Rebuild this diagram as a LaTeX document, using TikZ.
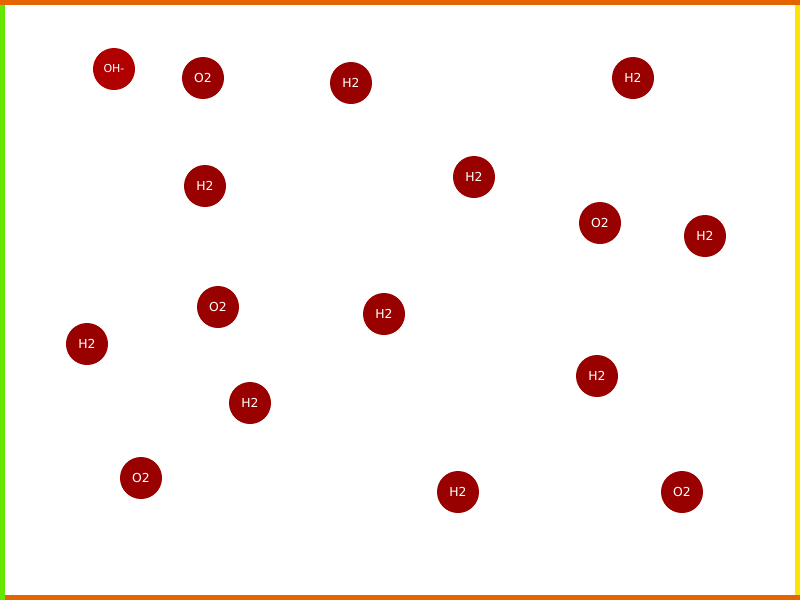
\documentclass[tikz,border=0pt]{standalone}
\usepackage{fontspec}
\setsansfont{DejaVu Sans}
\usepackage{tikz}
\definecolor{GasRed}{RGB}{153,0,0}
\definecolor{IonRed}{RGB}{176,0,0}
\definecolor{EdgeOrange}{RGB}{230,100,0}
\definecolor{EdgeGreen}{RGB}{100,230,0}
\definecolor{EdgeYellow}{RGB}{255,228,0}

\begin{document}
\begin{tikzpicture}[x=0.025cm,y=-0.025cm,
  gas/.style={circle,fill=GasRed,minimum size=1.05cm,inner sep=0pt,text=white,font=\sffamily\fontsize{8.8}{10}\selectfont},
  ion/.style={gas,fill=IonRed,font=\sffamily\fontsize{7.8}{9}\selectfont}]
\useasboundingbox (0,0) rectangle (800,600);
\fill[EdgeOrange] (0,0) rectangle (800,5);
\fill[EdgeGreen] (0,5) rectangle (5,600);
\fill[EdgeYellow] (795,5) rectangle (800,595);
\fill[EdgeOrange] (5,595) rectangle (800,600);
\node[ion] (oh) at (114,69) {OH-};
\node[gas] (o1) at (203,78) {O2};
\node[gas] (h1) at (351,83) {H2};
\node[gas] (h2) at (633,78) {H2};
\node[gas] (h3) at (205,186) {H2};
\node[gas] (h4) at (474,177) {H2};
\node[gas] (o2) at (600,223) {O2};
\node[gas] (h5) at (705,236) {H2};
\node[gas] (o3) at (218,307) {O2};
\node[gas] (h6) at (384,314) {H2};
\node[gas] (h7) at (87,344) {H2};
\node[gas] (h8) at (250,403) {H2};
\node[gas] (h9) at (597,376) {H2};
\node[gas] (o4) at (141,478) {O2};
\node[gas] (h10) at (458,492) {H2};
\node[gas] (o5) at (682,492) {O2};
\end{tikzpicture}
\end{document}
